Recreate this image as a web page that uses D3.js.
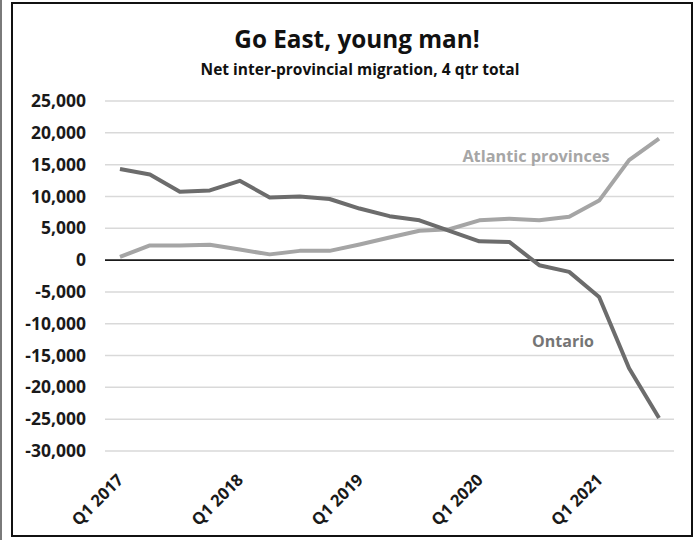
<!DOCTYPE html>
<html>
<head>
<meta charset="utf-8">
<script src="https://cdn.jsdelivr.net/npm/d3@7"></script>
<style>
  html, body { margin: 0; padding: 0; background: #fff; }
  svg { display: block; font-family: "Open Sans", Lato, sans-serif; }
</style>
</head>
<body>
<svg id="chart" width="695" height="540"></svg>
<script>
// Quarterly periods, four-quarter rolling totals
const quarters = [
  "Q1 2017", "Q2 2017", "Q3 2017", "Q4 2017",
  "Q1 2018", "Q2 2018", "Q3 2018", "Q4 2018",
  "Q1 2019", "Q2 2019", "Q3 2019", "Q4 2019",
  "Q1 2020", "Q2 2020", "Q3 2020", "Q4 2020",
  "Q1 2021", "Q2 2021", "Q3 2021"
];
const tickLabels = ["Q1 2017", "Q1 2018", "Q1 2019", "Q1 2020", "Q1 2021"];

const ontario = [
  14300, 13450, 10750, 10950, 12450, 9850, 10000, 9600,
  8100, 6900, 6250, 4600, 2950, 2850, -800, -1850,
  -5800, -17000, -24800
];
const atlantic = [
  500, 2300, 2300, 2400, 1650, 900, 1450, 1450,
  2450, 3550, 4600, 4850, 6250, 6500, 6250, 6800,
  9350, 15700, 19100
];

const yTicks = [25000, 20000, 15000, 10000, 5000, 0, -5000, -10000,
                -15000, -20000, -25000, -30000];

const title = "Go East, young man!";
const subtitle = "Net inter-provincial migration, 4 qtr total";

const FONT = "'Open Sans', Lato, sans-serif";
const svg = d3.select("#chart");

// outer frame
svg.append("rect").attr("x", 0).attr("y", 0).attr("width", 2).attr("height", 540)
  .attr("fill", "#7a7a7a");
svg.append("rect").attr("x", 12).attr("y", 3).attr("width", 680).attr("height", 533)
  .attr("fill", "none").attr("stroke", "#111").attr("stroke-width", 2);

const plot = { left: 105, right: 674, top: 101, bottom: 451 };

const x = d3.scalePoint().domain(quarters)
  .range([plot.left, plot.right]).padding(0.5);
const y = d3.scaleLinear().domain([-30000, 25000])
  .range([plot.bottom, plot.top]);

// titles
svg.append("text").attr("x", 357).attr("y", 48).attr("text-anchor", "middle")
  .attr("font-size", 24.3).attr("font-weight", 700).attr("fill", "#111")
  .text(title);
svg.append("text").attr("x", 360).attr("y", 74.5).attr("text-anchor", "middle")
  .attr("font-size", 15.5).attr("font-weight", 700).attr("fill", "#111")
  .text(subtitle);

// horizontal gridlines
svg.append("g").selectAll("line").data(yTicks.filter(d => d !== 0)).join("line")
  .attr("x1", plot.left).attr("x2", plot.right)
  .attr("y1", d => y(d)).attr("y2", d => y(d))
  .attr("stroke", "#d9d9d9").attr("stroke-width", 1.5);

// y axis labels (plain hyphen for negatives)
const fmt = d3.format(",");
const yAxis = d3.axisLeft(y).tickValues(yTicks).tickSize(0).tickPadding(0)
  .tickFormat(d => fmt(d).replace("\u2212", "-"));
const gy = svg.append("g").attr("transform", `translate(86,0)`).call(yAxis);
gy.select(".domain").remove();
gy.selectAll("text").attr("font-family", FONT)
  .attr("font-size", 17.5).attr("font-weight", 700).attr("fill", "#1a1a1a");

// x axis labels, rotated
const xAxis = d3.axisBottom(x).tickValues(tickLabels).tickSize(0).tickPadding(0);
const gx = svg.append("g").attr("transform", `translate(0,${plot.bottom})`).call(xAxis);
gx.select(".domain").remove();
gx.selectAll("text")
  .attr("font-family", FONT)
  .attr("font-size", 16.5).attr("font-weight", 700).attr("fill", "#1a1a1a")
  .attr("text-anchor", "end").attr("dy", null).attr("y", 0)
  .attr("transform", "translate(4,30) rotate(-45)");

// zero line
svg.append("line").attr("x1", plot.left).attr("x2", plot.right)
  .attr("y1", y(0)).attr("y2", y(0)).attr("stroke", "#1a1a1a").attr("stroke-width", 1.6);

const line = d3.line().x((d, i) => x(quarters[i])).y(d => y(d));

svg.append("path").datum(atlantic).attr("d", line)
  .attr("fill", "none").attr("stroke", "#a5a5a5").attr("stroke-width", 4)
  .attr("stroke-linejoin", "round");
svg.append("path").datum(ontario).attr("d", line)
  .attr("fill", "none").attr("stroke", "#6c6c6c").attr("stroke-width", 4)
  .attr("stroke-linejoin", "round");

// series labels
svg.append("text").attr("x", 536).attr("y", 162).attr("text-anchor", "middle")
  .attr("font-size", 16.3).attr("font-weight", 700).attr("fill", "#a6a6a6")
  .text("Atlantic provinces");
svg.append("text").attr("x", 563).attr("y", 347).attr("text-anchor", "middle")
  .attr("font-size", 16).attr("font-weight", 700).attr("fill", "#757575")
  .text("Ontario");
</script>
</body>
</html>
